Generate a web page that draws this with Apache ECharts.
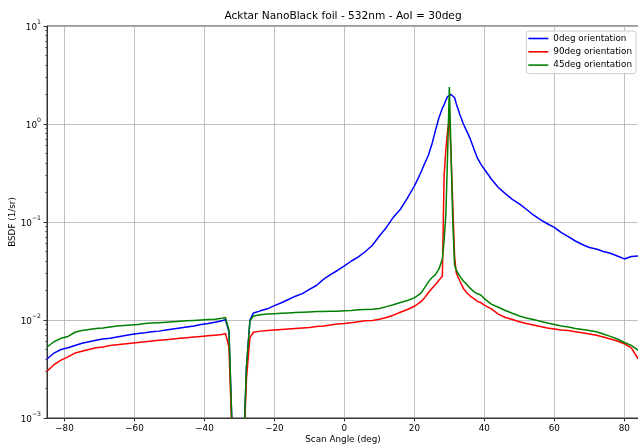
<!DOCTYPE html>
<html>
<head>
<meta charset="utf-8">
<script src="https://cdn.jsdelivr.net/npm/echarts@6/dist/echarts.min.js"></script>
<style>
html,body{margin:0;padding:0;background:#fff;}
#chart{width:638px;height:445px;}
</style>
</head>
<body>
<div id="chart"></div>
<script>
const titleText = 'Acktar NanoBlack foil - 532nm - AoI = 30deg';
const seriesNames = ['0deg orientation', '90deg orientation', '45deg orientation'];
const xTicks = [-80, -60, -40, -20, 0, 20, 40, 60, 80];
const yMinorTicks = [0.002,0.003,0.004,0.005,0.006,0.007,0.008,0.009,0.02,0.03,0.04,0.05,0.06,0.07,0.08,0.09,0.2,0.3,0.4,0.5,0.6,0.7,0.8,0.9,2,3,4,5,6,7,8,9];

const angles = [-85,-83,-81,-79,-77,-75,-73,-71,-69,-67,-65,-63,-61,-59,-57,-55,-53,-51,-49,-47,-45,-43,-41,-39,-37,-35,-34,-33,-32,-31,-30,-29,-28,-27,-26,-24,-22,-20,-18,-16,-14,-12,-10,-8,-6,-4,-2,0,2,4,6,8,10,12,14,16,18,20,21,22,23,24,25,26,27,28,28.5,29,29.5,30,30.5,31,31.5,32,33,34,35,36,37,38,39,40,42,44,46,48,50,52,54,56,58,60,62,64,66,68,70,72,74,76,78,80,82,84];

const bsdf0 = [0.0040,0.0046,0.0050,0.0052,0.0055,0.0058,0.0060,0.0062,0.0064,0.0065,0.0067,0.0069,0.0071,0.0073,0.0074,0.0076,0.0077,0.0079,0.0081,0.0083,0.0085,0.0087,0.0090,0.0092,0.0095,0.0098,0.0101,0.0076,0.0006,0.0003,0.0003,0.0003,0.0033,0.0100,0.0118,0.0124,0.0130,0.0140,0.0150,0.0162,0.0175,0.0186,0.0205,0.0225,0.0260,0.0290,0.0320,0.0357,0.0400,0.0440,0.0500,0.0580,0.0720,0.0880,0.112,0.135,0.175,0.233,0.275,0.33,0.40,0.48,0.62,0.85,1.15,1.45,1.57,1.75,1.90,1.98,2.00,1.97,1.85,1.60,1.25,1.00,0.84,0.70,0.56,0.45,0.39,0.345,0.275,0.225,0.195,0.170,0.153,0.135,0.118,0.106,0.096,0.088,0.078,0.071,0.064,0.059,0.055,0.053,0.050,0.048,0.045,0.042,0.0445,0.045];

const bsdf90 = [0.0030,0.0035,0.0039,0.0042,0.0046,0.0048,0.0050,0.0052,0.0053,0.0055,0.0056,0.0057,0.0058,0.0059,0.0060,0.0061,0.0062,0.0063,0.0064,0.0065,0.0066,0.0067,0.0068,0.0069,0.0070,0.0071,0.0073,0.0053,0.0005,0.0003,0.0003,0.0003,0.0025,0.0066,0.0075,0.0077,0.0078,0.0079,0.0080,0.0081,0.0082,0.0083,0.0084,0.0086,0.0087,0.0089,0.0091,0.0092,0.0094,0.0096,0.0098,0.0099,0.0102,0.0106,0.0112,0.0120,0.0128,0.0138,0.0146,0.0155,0.0170,0.0190,0.0210,0.0230,0.0255,0.0280,0.30,0.55,0.85,1.15,0.46,0.14,0.044,0.030,0.025,0.021,0.019,0.0175,0.0165,0.0155,0.0150,0.0142,0.0130,0.0115,0.0106,0.0101,0.0096,0.0092,0.0089,0.0086,0.0083,0.0081,0.0079,0.0078,0.0076,0.0074,0.0072,0.0070,0.0067,0.0064,0.0061,0.0057,0.0052,0.0040];

const bsdf45 = [0.0053,0.0060,0.0065,0.0068,0.0075,0.0078,0.0080,0.0082,0.0083,0.0085,0.0087,0.0088,0.0089,0.0090,0.0092,0.0093,0.0094,0.0095,0.0096,0.0097,0.0098,0.0099,0.0100,0.0101,0.0102,0.0104,0.0106,0.0079,0.0006,0.0003,0.0003,0.0003,0.0033,0.0098,0.0110,0.0113,0.0115,0.0116,0.0117,0.0118,0.0119,0.0120,0.0121,0.0122,0.0122,0.0123,0.0123,0.0124,0.0125,0.0127,0.0128,0.0129,0.0131,0.0137,0.0143,0.0151,0.0158,0.0168,0.0178,0.0190,0.0215,0.0245,0.0270,0.0290,0.0330,0.0420,0.065,0.12,0.50,2.38,0.48,0.095,0.036,0.032,0.028,0.025,0.023,0.021,0.0195,0.0185,0.0180,0.0165,0.0145,0.0135,0.0125,0.0117,0.0110,0.0105,0.0101,0.0097,0.0093,0.0090,0.0087,0.0085,0.0082,0.0080,0.0078,0.0076,0.0072,0.0068,0.0064,0.0059,0.0055,0.0049];

const colors = ['#0000ff', '#ff0000', '#008000'];
const valueSets = [bsdf0, bsdf90, bsdf45];

const FONT = 'DejaVu Sans';
const FS = 8.8;
const chart = echarts.init(document.getElementById('chart'), null, {renderer: 'canvas'});

function pairs(vals) { return angles.map((a, i) => [a, vals[i]]); }

chart.setOption({
  animation: false,
  backgroundColor: '#ffffff',
  textStyle: {fontFamily: FONT},
  title: {
    text: titleText, left: 343, top: 11, textAlign: 'center', padding: 0,
    textStyle: {fontFamily: FONT, fontSize: 10.6, fontWeight: 'normal', color: '#000'}
  },
  legend: {
    data: seriesNames, orient: 'vertical', right: 2, top: 31,
    icon: 'rect', itemWidth: 20, itemHeight: 1.6, itemGap: 2.3, itemTextGap: 6,
    padding: [2, 4, 3, 2],
    backgroundColor: 'rgba(255,255,255,0.8)', borderColor: '#cccccc', borderWidth: 1, borderRadius: 3,
    textStyle: {fontFamily: FONT, fontSize: FS, color: '#000', lineHeight: 11}
  },
  grid: {left: 47, right: -1, top: 26, bottom: 27, show: true, borderColor: '#333', borderWidth: 1,
    containLabel: false, outerBoundsMode: 'none'},
  xAxis: {
    type: 'value', min: -85, max: 84.2,
    name: 'Scan Angle (deg)', nameLocation: 'middle', nameGap: 17, nameMoveOverlap: false,
    nameTextStyle: {fontFamily: FONT, fontSize: FS, color: '#000'},
    axisLine: {show: true, onZero: false, lineStyle: {color: '#333', width: 1}},
    axisTick: {show: true, length: 3.5, customValues: xTicks, lineStyle: {color: '#333'}},
    axisLabel: {customValues: xTicks, fontFamily: FONT, fontSize: FS, color: '#000', margin: 6,
      formatter: v => String(v).replace('-', '\u2212')},
    splitLine: {show: true, lineStyle: {color: '#b0b0b0', width: 0.8}}
  },
  yAxis: [{
    type: 'log', logBase: 10, min: 0.001, max: 10,
    name: 'BSDF (1/sr)', nameLocation: 'middle', nameGap: 30, nameMoveOverlap: false,
    nameTextStyle: {fontFamily: FONT, fontSize: FS, color: '#000'},
    axisLine: {show: true, onZero: false, lineStyle: {color: '#333', width: 1}},
    axisTick: {show: true, length: 3.5, lineStyle: {color: '#333'}},
    axisLabel: {
      fontFamily: FONT, fontSize: FS, color: '#000', margin: 6,
      formatter: v => {
        const e = Math.round(Math.log10(v));
        return '{b|10}{s|' + String(e).replace('-', '\u2212') + '}';
      },
      rich: {
        b: {fontFamily: FONT, fontSize: FS, color: '#000', verticalAlign: 'bottom', lineHeight: 13},
        s: {fontFamily: FONT, fontSize: 6.2, color: '#000', verticalAlign: 'top', lineHeight: 13}
      }
    },
    splitLine: {show: true, lineStyle: {color: '#b0b0b0', width: 0.8}}
  }, {
    type: 'log', logBase: 10, min: 0.001, max: 10, position: 'left', offset: 0,
    axisLine: {show: false, onZero: false},
    axisTick: {show: true, length: 2, customValues: yMinorTicks, lineStyle: {color: '#333', width: 0.6}},
    axisLabel: {show: false},
    splitLine: {show: false}
  }],
  series: seriesNames.map((n, i) => ({
    name: n, type: 'line', data: pairs(valueSets[i]), yAxisIndex: 0,
    showSymbol: false, symbol: 'none', clip: true,
    lineStyle: {color: colors[i], width: 1.5},
    itemStyle: {color: colors[i]}
  }))
});
</script>
</body>
</html>
